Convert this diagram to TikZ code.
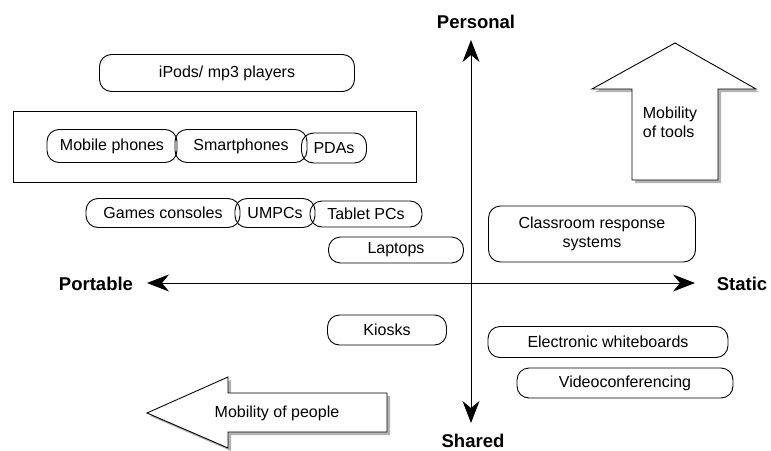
\documentclass[tikz,border=0pt]{standalone}
\usepackage{fontspec}
\setmainfont{Liberation Sans}
\usetikzlibrary{arrows.meta,shadows}
\tikzset{every picture/.style={x=1pt,y=-1pt}}
\tikzset{
  pill/.style={draw, line width=0.9pt, rounded corners=12pt, inner sep=0pt, font=\fontsize{16}{19}\selectfont},
  axislabel/.style={inner sep=0pt, font=\fontsize{18.5}{21}\selectfont\bfseries},
  blockarrow/.style={draw, line width=0.9pt, fill=white, drop shadow={shadow xshift=3pt, shadow yshift=-3pt, fill=black!50, opacity=0.6}},
  axis/.style={line width=0.9pt, {Stealth[length=22pt,width=17pt,inset=7pt]}-{Stealth[length=22pt,width=17pt,inset=7pt]}}
}

\begin{document}
\begin{tikzpicture}
    \useasboundingbox (0,0) rectangle (771,450);
    % axes
    \coordinate (top) at (471,40);
    \coordinate (bottom) at (471,423);
    \coordinate (left) at (147,283);
    \coordinate (right) at (695,283);
    \draw[axis] (top) -- (bottom);
    \draw[axis] (left) -- (right);
    \node[axislabel] (personal) at (476,22) {Personal};
    \node[axislabel] (shared) at (473,441) {Shared};
    \node[axislabel] (portable) at (96,284) {Portable};
    \node[axislabel] (static) at (742,284) {Static};

    % block arrows
    \draw[blockarrow] (632,180) -- (632,89) -- (592,89) -- (675,43) -- (756,89) -- (718,89) -- (718,180) -- cycle;
    \node[align=left, inner sep=0pt, font=\fontsize{16}{19}\selectfont] (tools) at (670,122) {Mobility\\of tools};
    \draw[blockarrow] (147,413) -- (228,377) -- (228,393) -- (387,393) -- (387,432) -- (228,432) -- (228,448) -- cycle;
    \node[inner sep=0pt, font=\fontsize{16}{19}\selectfont] (people) at (277,413) {Mobility of people};

    % personal devices
    \node[pill, minimum width=255pt, minimum height=37pt] (ipods) at (227,73) {iPods/ mp3 players};
    \draw[line width=0.9pt] (13,111) rectangle (416,182);
    \node[pill, minimum width=130pt, minimum height=33pt] (mobile) at (112,146) {Mobile phones};
    \node[pill, minimum width=132pt, minimum height=33pt] (smart) at (241,146) {Smartphones};
    \node[pill, minimum width=65pt, minimum height=30pt] (pdas) at (334,148) {PDAs};
    \node[pill, minimum width=154pt, minimum height=29pt] (games) at (163,213) {Games consoles};
    \node[pill, minimum width=80pt, minimum height=29pt] (umpcs) at (275,213) {UMPCs};
    \node[pill, minimum width=112pt, minimum height=26pt] (tablet) at (366,214) {Tablet PCs};
    \node[pill, minimum width=135pt, minimum height=26pt] (laptops) at (396,250) {Laptops};

    % shared / static
    \node[pill, align=center, minimum width=207pt, minimum height=56pt] (crs) at (592,234) {Classroom response\\systems};
    \node[pill, minimum width=119pt, minimum height=30pt] (kiosks) at (387,330) {Kiosks};
    \node[pill, minimum width=240pt, minimum height=31pt] (iwb) at (608,342) {Electronic whiteboards};
    \node[pill, minimum width=216pt, minimum height=30pt] (video) at (625,383) {Videoconferencing};
\end{tikzpicture}
\end{document}
